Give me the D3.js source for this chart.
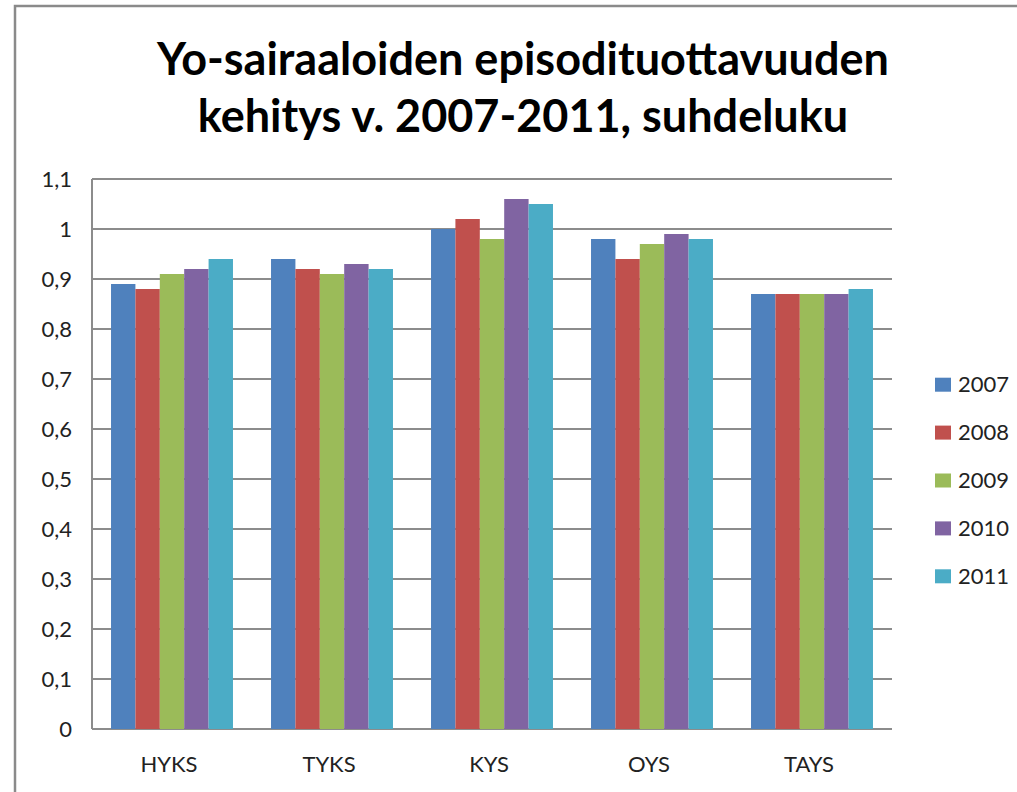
<!DOCTYPE html>
<html>
<head>
<meta charset="utf-8">
<script src="https://cdn.jsdelivr.net/npm/d3@7"></script>
<style>
  html, body { margin: 0; background: #fff; overflow: hidden; }
  svg { display: block; }
  text { font-family: Lato, "Open Sans", sans-serif; fill: #222; }
</style>
</head>
<body>
<svg id="chart" width="1017" height="792"></svg>
<script>
// data
var categories = ["HYKS", "TYKS", "KYS", "OYS", "TAYS"];
var years = ["2007", "2008", "2009", "2010", "2011"];
var v2007 = [0.89, 0.94, 1.00, 0.98, 0.87];
var v2008 = [0.88, 0.92, 1.02, 0.94, 0.87];
var v2009 = [0.91, 0.91, 0.98, 0.97, 0.87];
var v2010 = [0.92, 0.93, 1.06, 0.99, 0.87];
var v2011 = [0.94, 0.92, 1.05, 0.98, 0.88];
var yTicks = [0, 0.1, 0.2, 0.3, 0.4, 0.5, 0.6, 0.7, 0.8, 0.9, 1, 1.1];
var colors = ["#4F81BD", "#C0504D", "#9BBB59", "#8064A2", "#4BACC6"];
var titleLines = ["Yo-sairaaloiden episodituottavuuden", "kehitys v. 2007-2011, suhdeluku"];

var series = [v2007, v2008, v2009, v2010, v2011];

var svg = d3.select("#chart");

// outer frame, only the left and top edges are in the picture
svg.append("path")
  .attr("d", "M15,792 L15,6 L1017,6")
  .attr("fill", "none").attr("stroke", "#8a8a8a").attr("stroke-width", 2.5);

// title
svg.selectAll(".title").data(titleLines).enter()
  .append("text")
  .attr("class", "title")
  .attr("x", 523)
  .attr("y", function(d, i) { return 75 + i * 57; })
  .attr("text-anchor", "middle")
  .style("font-size", "45px")
  .style("font-weight", "bold")
  .style("fill", "#000")
  .text(function(d) { return d; });

var plot = { left: 92, right: 892, top: 179, bottom: 729 };

var x = d3.scaleBand().domain(categories).range([plot.left, plot.right]);
var xi = d3.scaleBand().domain(years).range([0, x.bandwidth()]).paddingOuter(0.78);
var y = d3.scaleLinear().domain([0, 1.1]).range([plot.bottom, plot.top]);

var g = svg.append("g");

// gridlines
g.selectAll(".grid").data(yTicks).enter()
  .append("line")
  .attr("x1", plot.left).attr("x2", plot.right)
  .attr("y1", function(d) { return y(d); })
  .attr("y2", function(d) { return y(d); })
  .attr("stroke", "#8c8c8c").attr("stroke-width", 2);

// left axis line
g.append("line")
  .attr("x1", plot.left).attr("x2", plot.left)
  .attr("y1", plot.top).attr("y2", plot.bottom)
  .attr("stroke", "#8c8c8c").attr("stroke-width", 2);

// y labels
var yAxis = d3.axisLeft(y).tickValues(yTicks).tickSize(0).tickPadding(20)
  .tickFormat(function(d) { return d3.format("")(d).replace(".", ","); });
svg.append("g")
  .attr("transform", "translate(" + plot.left + ",0)")
  .call(yAxis)
  .call(function(s) { s.select(".domain").remove(); })
  .selectAll("text")
  .attr("dy", "0.35em")
  .style("font-size", "22px")
  .style("font-family", "Lato, 'Open Sans', sans-serif")
  .style("fill", "#222");

// bars
var groups = g.selectAll(".cat").data(categories).enter()
  .append("g")
  .attr("transform", function(d) { return "translate(" + x(d) + ",0)"; });

groups.selectAll("rect")
  .data(function(d, ci) { return years.map(function(yr, si) { return { yr: yr, v: series[si][ci], si: si }; }); })
  .enter().append("rect")
  .attr("x", function(d) { return xi(d.yr); })
  .attr("width", xi.bandwidth())
  .attr("y", function(d) { return y(d.v); })
  .attr("height", function(d) { return y(0) - y(d.v); })
  .attr("fill", function(d) { return colors[d.si]; });

// x labels
var xAxis = d3.axisBottom(x).tickSize(0).tickPadding(27);
svg.append("g")
  .attr("transform", "translate(-3," + plot.bottom + ")")
  .call(xAxis)
  .call(function(s) { s.select(".domain").remove(); })
  .selectAll("text")
  .style("font-size", "22px")
  .style("font-family", "Lato, 'Open Sans', sans-serif")
  .style("fill", "#222");

// legend
var legend = svg.selectAll(".leg").data(years).enter()
  .append("g")
  .attr("transform", function(d, i) { return "translate(935," + (384.7 + i * 47.9) + ")"; });
legend.append("rect")
  .attr("x", 0).attr("y", -7).attr("width", 16).attr("height", 14)
  .attr("fill", function(d, i) { return colors[i]; });
legend.append("text")
  .attr("x", 23).attr("dy", "0.35em")
  .style("font-size", "22px")
  .text(function(d) { return d; });
</script>
</body>
</html>
